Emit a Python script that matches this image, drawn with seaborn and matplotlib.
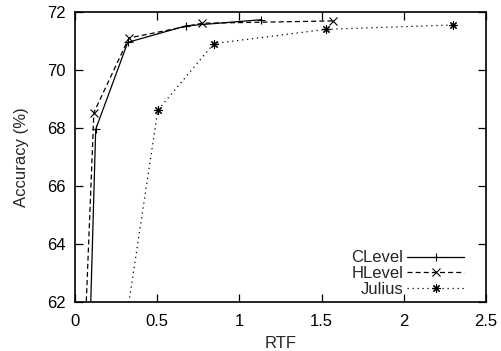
import matplotlib
matplotlib.use('Agg')
import matplotlib.pyplot as plt
import seaborn as sns
import pandas as pd

# values
clevel_rtf = [0.085, 0.125, 0.32, 0.675, 1.13]
clevel_acc = [60.0, 67.95, 70.95, 71.52, 71.73]
hlevel_rtf = [0.06, 0.114, 0.327, 0.773, 1.567]
hlevel_acc = [60.9, 68.53, 71.1, 71.61, 71.69]
julius_rtf = [0.28, 0.503, 0.844, 1.527, 2.297]
julius_acc = [60.2, 68.61, 70.91, 71.4, 71.55]

x_ticks = [0, 0.5, 1, 1.5, 2, 2.5]
x_tick_labels = ['0', '0.5', '1', '1.5', '2', '2.5']
y_ticks = [62, 64, 66, 68, 70, 72]

sns.set_style('ticks')
plt.rcParams['font.family'] = ['Liberation Sans', 'DejaVu Sans']
plt.rcParams['font.size'] = 12

df = pd.concat([
    pd.DataFrame({'RTF': clevel_rtf, 'acc': clevel_acc, 'sys': 'CLevel'}),
    pd.DataFrame({'RTF': hlevel_rtf, 'acc': hlevel_acc, 'sys': 'HLevel'}),
    pd.DataFrame({'RTF': julius_rtf, 'acc': julius_acc, 'sys': 'Julius'}),
])

markers = {'CLevel': '+', 'HLevel': 'x', 'Julius': (8, 2, 0)}
dashes = {'CLevel': '', 'HLevel': (4, 2.5), 'Julius': (1, 3)}

fig, ax = plt.subplots(figsize=(5.01, 3.51), dpi=100)
fig.subplots_adjust(left=0.150, right=0.970, top=0.966, bottom=0.140)

sns.lineplot(data=df, x='RTF', y='acc', style='sys', markers=markers,
             dashes=dashes, color='black', lw=0.9, sort=False,
             estimator=None, markersize=6, markeredgewidth=0.8,
             markeredgecolor='black', ax=ax)

ax.set_xlim(0, 2.5)
ax.set_ylim(62, 72)
ax.set_xticks(x_ticks)
ax.set_xticklabels(x_tick_labels)
ax.set_yticks(y_ticks)
ax.tick_params(direction='in', length=6, width=0.9, top=True, right=True,
               colors='black', labelsize=12)
ax.tick_params(axis='x', pad=9)
ax.tick_params(axis='y', pad=7)
for s in ax.spines.values():
    s.set_linewidth(1.2)
    s.set_color('black')
ax.set_xlabel('RTF', fontsize=12, labelpad=5)
ax.set_ylabel('Accuracy (%)', fontsize=12, labelpad=13)

leg = ax.legend(loc='lower right', bbox_to_anchor=(0.955, 0.005), frameon=False,
                markerfirst=False, handlelength=3.4, handletextpad=0.25,
                labelspacing=0.05, borderpad=0.2, borderaxespad=0, fontsize=12)

plt.savefig('out.png', dpi=100)
plt.close()
